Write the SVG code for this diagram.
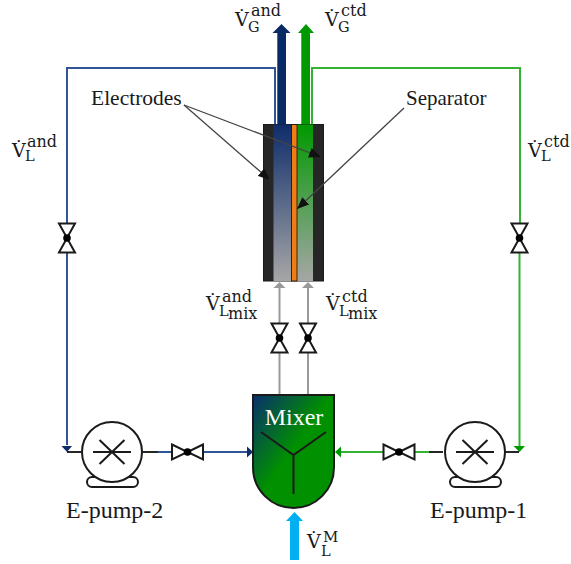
<svg xmlns="http://www.w3.org/2000/svg" width="571" height="564" viewBox="0 0 571 564">
<style>
.lbl{font-family:"Liberation Serif","Times New Roman",serif;fill:#1a1a1a}
.m{font-family:"DejaVu Serif",serif;fill:#1a1a1a;font-size:16px}
.v{font-size:19px}.s{font-size:16px}.b{font-size:14.500px}
.o{fill:none;stroke:#1a1a1a;stroke-width:2}
.vt{fill:#fff;stroke:#1a1a1a;stroke-width:2;stroke-linejoin:miter}
.blue{fill:none;stroke:#2f5597;stroke-width:2}
.green{fill:none;stroke:#33b233;stroke-width:2}
.gray{fill:none;stroke:#999;stroke-width:2}
.blk{fill:none;stroke:#262626;stroke-width:2}
.lead{fill:none;stroke:#444;stroke-width:1.300}
</style>
<defs>
<linearGradient id="gb" x1="0" y1="0" x2="0" y2="1"><stop offset="0" stop-color="#0f2d6b"/><stop offset="1" stop-color="#a6a6a6"/></linearGradient>
<linearGradient id="gg" x1="0" y1="0" x2="0" y2="1"><stop offset="0" stop-color="#009900"/><stop offset="1" stop-color="#a6a6a6"/></linearGradient>
<linearGradient id="gm" x1="0" y1="0" x2="0.75" y2="0.75"><stop offset="0" stop-color="#0a2f6e"/><stop offset="0.65" stop-color="#009000"/><stop offset="1" stop-color="#009000"/></linearGradient>
<g id="valve"><path class="vt" d="M-15.500-7.500 L0 0 L-15.500 7.500Z"/><path class="vt" d="M15.500-7.500 L0 0 L15.500 7.500Z"/><circle r="3.800" fill="#000"/></g>
<g id="vvalve"><path class="vt" d="M-8-14.500 L0 0 L8-14.500Z"/><path class="vt" d="M-8 14.500 L0 0 L8 14.500Z"/><circle r="3.800" fill="#000"/></g>
<g id="pump"><rect x="-25" y="25" width="51" height="10" rx="5" fill="#fff" stroke="#1a1a1a" stroke-width="2"/><circle r="30" fill="#fff" stroke="#1a1a1a" stroke-width="2"/><path class="o" d="M-19 0H19M-12.500-12 L12.500 12M-12.500 12 L12.500-12"/></g>
<marker id="ah" markerUnits="userSpaceOnUse" markerWidth="13" markerHeight="10" refX="12" refY="5" orient="auto"><path d="M0 0L12 5L0 10Z" fill="#111"/></marker>
</defs>
<g id="connectors">
<path class="blue" d="M67 224V68H275V124"/>
<path class="blue" d="M67 252V445"/>
<path d="M61.500 446H72L67 452Z" fill="#0f2d6b"/>
<path class="blk" d="M67 452H82"/>
<path class="blk" d="M142 452H158"/>
<path class="blue" d="M158 452H172M203 452H248"/>
<path d="M247 446.500L253 452L247 457.500Z" fill="#0f2d6b"/>
<path class="green" d="M312 124V68H520V224"/>
<path class="green" d="M519.500 252V446"/>
<path d="M513.500 446H525L519.500 452Z" fill="#009900"/>
<path class="blk" d="M505 452H519"/>
<path class="blk" d="M429 452H443"/>
<path class="green" d="M340 452H384M415 452H429"/>
<path d="M341 446.500L335 452L341 457.500Z" fill="#009900"/>
<path class="gray" d="M279.500 395V288M308 395V288"/>
<path d="M273.500 288L279.500 282L285.500 288Z" fill="#999"/>
<path d="M302 288L308 282L314 288Z" fill="#999"/>
<path d="M277.300 124V33H272.500L281.500 24L290.500 33H286V124Z" fill="#0a2a66"/>
<path d="M301.300 124V33H298L306 24L314 33H310V124Z" fill="#009900"/>
<path d="M290 560V521H286L294.500 512L303 521H299V560Z" fill="#00b0f0"/>
</g>
<g id="cell">
<rect x="263.500" y="124.500" width="60" height="156.500" fill="#262626" stroke="#1a1a1a"/>
<rect x="273.500" y="124.500" width="18" height="156.500" fill="url(#gb)"/>
<rect x="296.500" y="124.500" width="16.500" height="156.500" fill="url(#gg)"/>
<rect x="291.500" y="124.500" width="5.500" height="156.500" fill="#ed7d14" stroke="#111" stroke-width="0.800"/>
</g>
<g id="leaders">
<path class="lead" d="M184 105L270 180" marker-end="url(#ah)"/>
<path class="lead" d="M184 105L321 157" marker-end="url(#ah)"/>
<path class="lead" d="M404 108L297 209" marker-end="url(#ah)"/>
</g>
<g id="valve-l"><use href="#vvalve" x="67" y="238"/></g>
<g id="valve-r"><use href="#vvalve" x="519.500" y="238"/></g>
<g id="valve-m1"><use href="#vvalve" x="279.500" y="338"/></g>
<g id="valve-m2"><use href="#vvalve" x="308" y="338"/></g>
<g id="valve-p2"><use href="#valve" x="187.500" y="452"/></g>
<g id="valve-p1"><use href="#valve" x="399" y="452"/></g>
<g id="pump-2"><use href="#pump" x="112" y="452"/><text class="lbl" x="66" y="518" font-size="24">E-pump-2</text></g>
<g id="pump-1"><use href="#pump" x="475" y="452"/><text class="lbl" x="430" y="518" font-size="24">E-pump-1</text></g>
<g id="mixer">
<path d="M253 395H334V467.500A40.500 40.500 0 0 1 253 467.500Z" fill="url(#gm)" stroke="#1a1a1a" stroke-width="2"/>
<path class="o" d="M261 432L293.500 455L326 432M293.500 455V494" stroke="#111"/>
<text x="294" y="425" text-anchor="middle" font-size="24" fill="#fff" font-family="Liberation Serif,serif">Mixer</text>
</g>
<g id="labels">
<text class="lbl" x="91" y="105" font-size="21.500">Electrodes</text>
<text class="lbl" x="406" y="105" font-size="21">Separator</text>
<text class="m" x="235" y="26"><tspan class="v">V̇</tspan><tspan class="b" x="248" y="32">G</tspan><tspan class="s" x="251" y="16">and</tspan></text>
<text class="m" x="325" y="26"><tspan class="v">V̇</tspan><tspan class="b" x="338" y="32">G</tspan><tspan class="s" x="341" y="16">ctd</tspan></text>
<text class="m" x="12" y="157"><tspan class="v">V̇</tspan><tspan class="b" x="25" y="161">L</tspan><tspan class="s" x="27" y="147">and</tspan></text>
<text class="m" x="528" y="157"><tspan class="v">V̇</tspan><tspan class="b" x="541" y="161">L</tspan><tspan class="s" x="544" y="147">ctd</tspan></text>
<text class="m" x="206" y="310"><tspan class="v">V̇</tspan><tspan class="b" x="219" y="316">L</tspan><tspan class="s" x="228" y="319">mix</tspan><tspan class="s" x="222" y="302">and</tspan></text>
<text class="m" x="326" y="310"><tspan class="v">V̇</tspan><tspan class="b" x="339" y="316">L</tspan><tspan class="s" x="348" y="319">mix</tspan><tspan class="s" x="342" y="302">ctd</tspan></text>
<text class="m" x="307" y="548"><tspan class="v">V̇</tspan><tspan class="b" x="321" y="556">L</tspan><tspan font-size="15" x="323" y="542">M</tspan></text>
</g>
</svg>
